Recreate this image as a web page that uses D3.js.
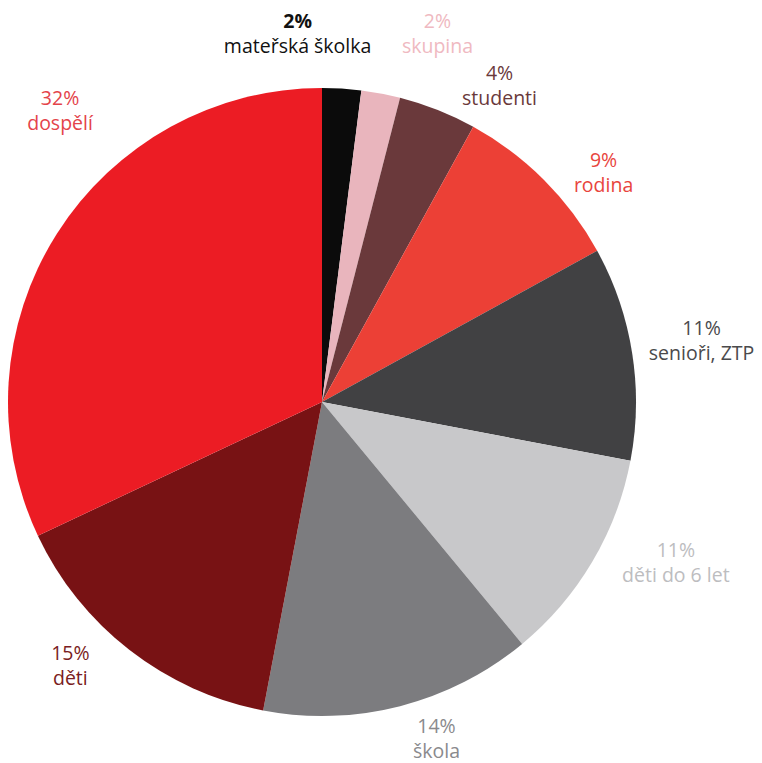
<!DOCTYPE html>
<html>
<head>
<meta charset="utf-8">
<script src="https://cdn.jsdelivr.net/npm/d3@7"></script>
<style>
  html, body { margin: 0; padding: 0; background: #fff; }
  svg { display: block; }
</style>
</head>
<body>
<div id="chart"></div>
<script>
// data (clockwise from 12 o'clock)
const categories = ["mateřská školka", "skupina", "studenti", "rodina", "senioři, ZTP",
                    "děti do 6 let", "škola", "děti", "dospělí"];
const values = [2, 2, 4, 9, 11, 11, 14, 15, 32];
const pctLabels = ["2%", "2%", "4%", "9%", "11%", "11%", "14%", "15%", "32%"];

// styling
const sliceColors = ["#0b0b0b", "#e9b5bd", "#6a393b", "#ec4036", "#414143",
                     "#c8c8ca", "#7c7c7f", "#781214", "#ec1c24"];
const labelColors = ["#111111", "#efb9c1", "#6a393b", "#e8453d", "#4a4a4c",
                     "#bdbdbf", "#8a8a8d", "#7a1d22", "#e4434a"];
// label nudges from the label arc centroid
const labelShift = [[-47, -15], [48, -20], [45, 13], [27, 20], [24, -11],
                    [44, -28], [25, -18], [-31, -26], [42, -104]];

function drawChart() {
  const width = 762, height = 763;
  const cx = 322, cy = 402, radius = 314;

  const rows = categories.map((c, i) => ({ name: c, value: values[i], pct: pctLabels[i], i }));

  const svg = d3.select("#chart").append("svg")
    .attr("width", width)
    .attr("height", height);

  const g = svg.append("g").attr("transform", `translate(${cx},${cy})`);

  const pie = d3.pie().sort(null).value(d => d.value);
  const arc = d3.arc().innerRadius(0).outerRadius(radius);
  const labelArc = d3.arc().innerRadius(360).outerRadius(360);

  const arcs = pie(rows);

  g.selectAll("path.slice")
    .data(arcs)
    .enter()
    .append("path")
    .attr("class", "slice")
    .attr("d", arc)
    .attr("fill", d => sliceColors[d.data.i]);

  const labels = g.selectAll("text.label")
    .data(arcs)
    .enter()
    .append("text")
    .attr("class", "label")
    .attr("text-anchor", "middle")
    .style("font-family", "'Open Sans', sans-serif")
    .style("font-size", "19.5px")
    .attr("fill", d => labelColors[d.data.i])
    .attr("transform", d => {
      const [x, y] = labelArc.centroid(d);
      const s = labelShift[d.data.i];
      return `translate(${x + s[0]},${y + s[1]})`;
    });

  labels.append("tspan")
    .attr("x", 0)
    .attr("y", 0)
    .style("font-weight", d => d.data.i === 0 ? 700 : 400)
    .text(d => d.data.pct);

  labels.append("tspan")
    .attr("x", 0)
    .attr("y", 25)
    .text(d => d.data.name);
}

drawChart();
</script>
</body>
</html>
